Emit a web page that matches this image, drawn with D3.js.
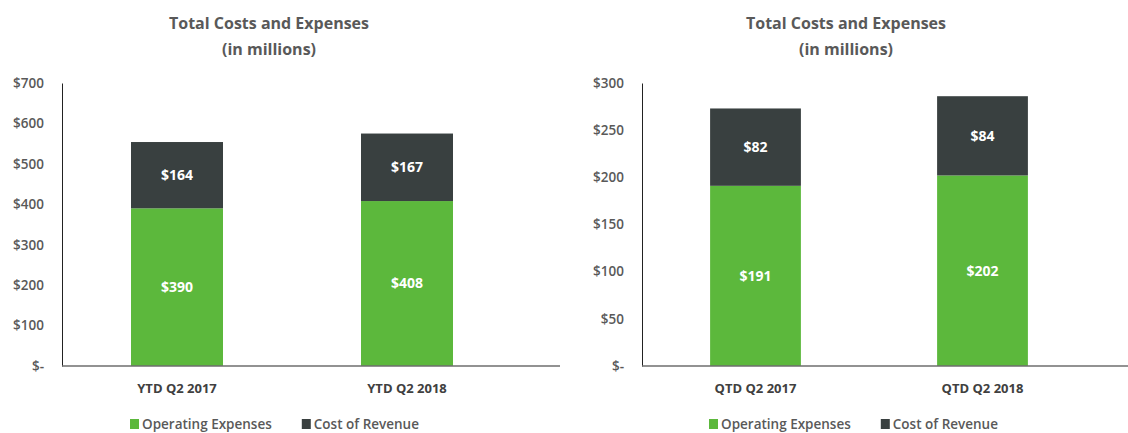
<!DOCTYPE html>
<html lang="en">
<head>
    <meta charset="UTF-8">
    <title>Total Costs and Expenses</title>
    <script src="https://d3js.org/d3.v7.min.js"></script>
    <style>
        body { margin: 0; background: #fff; }
        text { font-family: "Open Sans", sans-serif; }
    </style>
</head>
<body>
<script>

    // data
    var series = ["Operating Expenses", "Cost of Revenue"];
    var colors = ["#5cb83c", "#394040"];

    var ytdCategories = ["YTD Q2 2017", "YTD Q2 2018"];
    var ytdOpex = [390, 408];
    var ytdCost = [164, 167];
    var ytdTicks = [0, 100, 200, 300, 400, 500, 600, 700];

    var qtdCategories = ["QTD Q2 2017", "QTD Q2 2018"];
    var qtdOpex = [191, 202];
    var qtdCost = [82, 84];
    var qtdTicks = [0, 50, 100, 150, 200, 250, 300];

    var width = 1128;
    var height = 433;

    var svg = d3.select("body").append("svg")
        .attr("width", width)
        .attr("height", height);

    var fmt = function (v) { return v === 0 ? "$-" : "$" + v; };

    function drawChart(opt) {
        var g = svg.append("g");

        var yScale = d3.scaleLinear()
            .domain([0, opt.ticks[opt.ticks.length - 1]])
            .range([366, 83]);
        var xScale = d3.scaleBand()
            .domain(opt.categories)
            .range([opt.left, opt.right])
            .paddingInner(0.6)
            .paddingOuter(0.3);

        // title
        g.append("text")
            .attr("x", opt.titleX).attr("y", 29)
            .attr("text-anchor", "middle")
            .attr("font-size", "16px").attr("font-weight", "bold")
            .attr("fill", "#595959")
            .text("Total Costs and Expenses");
        g.append("text")
            .attr("x", opt.titleX).attr("y", 55)
            .attr("text-anchor", "middle")
            .attr("font-size", "16px").attr("font-weight", "bold")
            .attr("fill", "#595959")
            .text("(in millions)");

        // y axis
        var yAxis = d3.axisLeft(yScale)
            .tickValues(opt.ticks)
            .tickFormat(fmt)
            .tickSize(0)
            .tickPadding(opt.tickPad);
        var ya = g.append("g")
            .attr("transform", "translate(" + opt.left + ",0)")
            .call(yAxis);
        ya.select(".domain").attr("stroke", "#222").attr("stroke-width", 1);
        ya.selectAll("text")
            .attr("font-size", "13.5px")
            .attr("font-weight", "600")
            .attr("fill", "#595959")
            .attr("font-family", "Open Sans");

        // stacked bars
        var rows = opt.categories.map(function (c, i) {
            return { cat: c, opex: opt.opex[i], cost: opt.cost[i] };
        });
        var stack = d3.stack().keys(["opex", "cost"])(rows);

        stack.forEach(function (layer, li) {
            g.selectAll(null)
                .data(layer)
                .enter().append("rect")
                .attr("x", function (d) { return xScale(d.data.cat); })
                .attr("width", xScale.bandwidth())
                .attr("y", function (d) { return yScale(d[1]); })
                .attr("height", function (d) { return yScale(d[0]) - yScale(d[1]); })
                .attr("fill", colors[li]);

            g.selectAll(null)
                .data(layer)
                .enter().append("text")
                .attr("x", function (d) { return xScale(d.data.cat) + xScale.bandwidth() / 2; })
                .attr("y", function (d) { return (yScale(d[0]) + yScale(d[1])) / 2; })
                .attr("dy", "0.35em")
                .attr("text-anchor", "middle")
                .attr("font-size", "14px").attr("font-weight", "bold")
                .attr("fill", "#fff")
                .text(function (d) { return "$" + (d[1] - d[0]); });
        });

        // x axis
        g.append("line")
            .attr("x1", opt.left).attr("x2", opt.axisEnd)
            .attr("y1", yScale(0)).attr("y2", yScale(0))
            .attr("stroke", "#6e6e6e").attr("stroke-width", 1.5);
        g.selectAll(null)
            .data(opt.categories)
            .enter().append("text")
            .attr("x", function (d) { return xScale(d) + xScale.bandwidth() / 2; })
            .attr("y", 388)
            .attr("dy", "0.35em")
            .attr("text-anchor", "middle")
            .attr("font-size", "13px").attr("font-weight", "bold")
            .attr("fill", "#404040")
            .text(function (d) { return d; });

        // legend
        var lg = g.append("g").attr("transform", "translate(" + opt.legendX + ",424)");
        var lx = 0;
        series.forEach(function (s, i) {
            lg.append("rect")
                .attr("x", lx).attr("y", -5)
                .attr("width", 9).attr("height", 10)
                .attr("fill", colors[i]);
            var t = lg.append("text")
                .attr("x", lx + 12).attr("y", 0)
                .attr("dy", "0.35em")
                .attr("font-size", "13.5px").attr("font-weight", "600")
                .attr("fill", "#595959")
                .text(s);
            lx += 12 + t.node().getComputedTextLength() + 30;
        });
    }

    drawChart({
        categories: ytdCategories, opex: ytdOpex, cost: ytdCost, ticks: ytdTicks,
        left: 62, right: 522, axisEnd: 560, titleX: 269, legendX: 130, tickPad: 18
    });
    drawChart({
        categories: qtdCategories, opex: qtdOpex, cost: qtdCost, ticks: qtdTicks,
        left: 642, right: 1096, axisEnd: 1128, titleX: 846, legendX: 709, tickPad: 18
    });

</script>
</body>
</html>
